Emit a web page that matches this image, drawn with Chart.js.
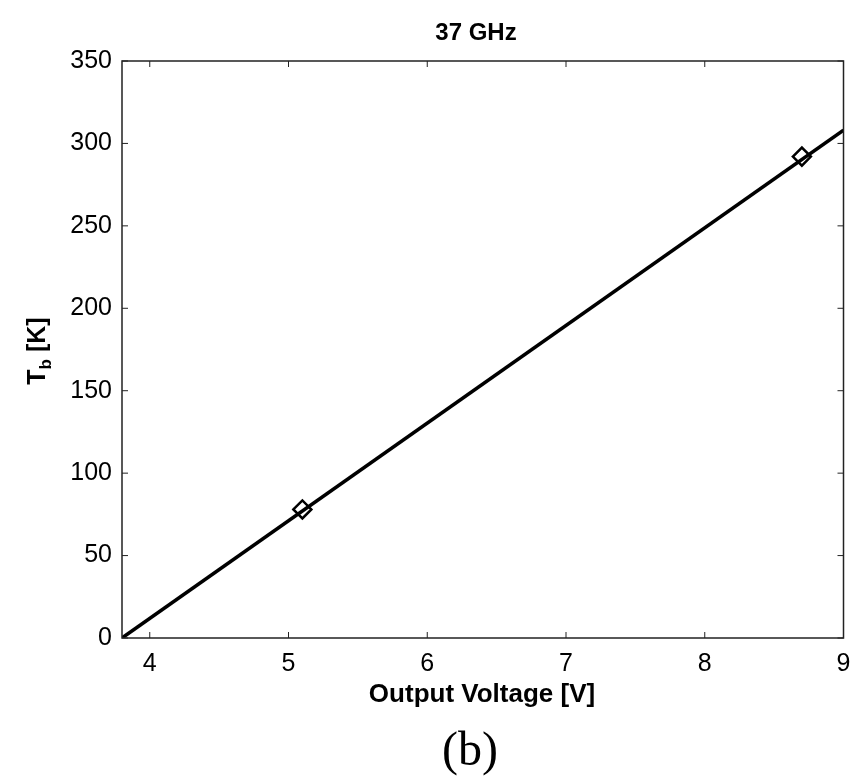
<!DOCTYPE html>
<html>
<head>
<meta charset="utf-8">
<script src="https://cdn.jsdelivr.net/npm/chart.js@4"></script>
<style>
  html, body { margin: 0; padding: 0; background: #fff; }
  #wrap { width: 855px; height: 777px; }
</style>
</head>
<body>
<div id="wrap"><canvas id="c" width="855" height="777"></canvas></div>
<script>
const lineVolts = [3.8, 9.0];
const lineTb = [0, 308];
const calVolts = [5.1, 8.7];
const calTb = [78, 292];
const xTicks = [4, 5, 6, 7, 8, 9];
const yTicks = [0, 50, 100, 150, 200, 250, 300, 350];

const FONT = "'Liberation Sans', Arial, sans-serif";

// frame, inward ticks, titles and the (b) caption
const extras = {
    id: 'extras',
    afterDraw(chart) {
        const { ctx, chartArea: a, scales } = chart;
        ctx.save();
        ctx.strokeStyle = '#222';
        ctx.lineWidth = 1.5;
        ctx.strokeRect(a.left, a.top, a.right - a.left, a.bottom - a.top);

        ctx.lineWidth = 1;
        xTicks.forEach(v => {
            const x = scales.x.getPixelForValue(v);
            ctx.beginPath();
            ctx.moveTo(x, a.bottom); ctx.lineTo(x, a.bottom - 6);
            ctx.moveTo(x, a.top); ctx.lineTo(x, a.top + 6);
            ctx.stroke();
        });
        yTicks.forEach(v => {
            const y = scales.y.getPixelForValue(v);
            ctx.beginPath();
            ctx.moveTo(a.left, y); ctx.lineTo(a.left + 6, y);
            ctx.moveTo(a.right, y); ctx.lineTo(a.right - 6, y);
            ctx.stroke();
        });

        ctx.fillStyle = '#000';
        ctx.textAlign = 'center';
        ctx.textBaseline = 'alphabetic';
        ctx.font = 'bold 24px ' + FONT;
        ctx.fillText('37 GHz', 476, 40);

        ctx.font = 'bold 26px ' + FONT;
        ctx.fillText('Output Voltage [V]', 482, 702);

        ctx.font = '48px "Liberation Serif", "Times New Roman", serif';
        ctx.fillText('(b)', 470, 765);

        // y title with subscript
        ctx.translate(38, 351);
        ctx.rotate(-Math.PI / 2);
        ctx.textAlign = 'left';
        ctx.textBaseline = 'middle';
        ctx.font = 'bold 25px ' + FONT;
        const wT = ctx.measureText('T').width;
        ctx.font = 'bold 17px ' + FONT;
        const wb = ctx.measureText('b').width;
        ctx.font = 'bold 25px ' + FONT;
        const wK = ctx.measureText(' [K]').width;
        let x0 = -(wT + wb + wK) / 2;
        ctx.fillText('T', x0, 0);
        ctx.font = 'bold 17px ' + FONT;
        ctx.fillText('b', x0 + wT, 8);
        ctx.font = 'bold 25px ' + FONT;
        ctx.fillText(' [K]', x0 + wT + wb, 0);
        ctx.restore();
    }
};

new Chart(document.getElementById('c'), {
    type: 'scatter',
    data: {
        datasets: [
            {
                data: lineVolts.map((v, i) => ({ x: v, y: lineTb[i] })),
                showLine: true,
                borderColor: '#000',
                borderWidth: 3.5,
                pointRadius: 0
            },
            {
                data: calVolts.map((v, i) => ({ x: v, y: calTb[i] })),
                pointStyle: 'rectRot',
                pointRadius: 9,
                backgroundColor: '#fff',
                borderColor: '#000',
                borderWidth: 2.5
            }
        ]
    },
    options: {
        responsive: false,
        animation: false,
        layout: { padding: { top: 61, right: 4, bottom: 0, left: 0 } },
        plugins: { legend: { display: false }, tooltip: { enabled: false } },
        scales: {
            x: {
                type: 'linear',
                min: 3.8, max: 9,
                afterBuildTicks: s => { s.ticks = xTicks.map(v => ({ value: v })); },
                afterFit: s => { s.height = 139; },
                grid: { display: false },
                border: { display: false },
                ticks: { color: '#000', padding: 3, font: { family: FONT, size: 25 } }
            },
            y: {
                min: 0, max: 350,
                afterBuildTicks: s => { s.ticks = yTicks.map(v => ({ value: v })); },
                afterFit: s => { s.width = 122; },
                grid: { display: false },
                border: { display: false },
                ticks: { color: '#000', padding: 2, font: { family: FONT, size: 25 } }
            }
        }
    },
    plugins: [extras]
});
</script>
</body>
</html>
